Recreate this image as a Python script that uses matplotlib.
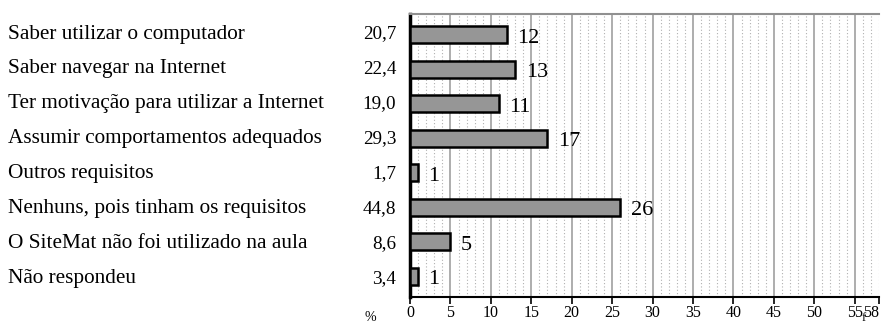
import matplotlib
matplotlib.use("Agg")
import matplotlib.pyplot as plt
import numpy as np

categories = [
    "Saber utilizar o computador",
    "Saber navegar na Internet",
    "Ter motivação para utilizar a Internet",
    "Assumir comportamentos adequados",
    "Outros requisitos",
    "Nenhuns, pois tinham os requisitos",
    "O SiteMat não foi utilizado na aula",
    "Não respondeu",
]
freq = [12, 13, 11, 17, 1, 26, 5, 1]
percent = ["20,7", "22,4", "19,0", "29,3", "1,7", "44,8", "8,6", "3,4"]
total = 58
xtick_values = [0, 5, 10, 15, 20, 25, 30, 35, 40, 45, 50, 55, 58]

plt.rcParams["font.family"] = ["Liberation Serif", "DejaVu Serif"]

W, H = 883, 325
fig = plt.figure(figsize=(W / 100, H / 100), dpi=100)
x0, x1, ytop, ybot = 410, 879, 14, 297
ax = fig.add_axes([x0 / W, 1 - ybot / H, (x1 - x0) / W, (ybot - ytop) / H])

y = np.arange(len(categories))
ax.barh(y, freq, height=0.48, color="#969696", edgecolor="black", linewidth=1.8, zorder=3)

ax.set_xlim(0, total)
ax.set_ylim(len(categories) - 0.4, -0.6)

# grid: solid every 5, dotted every 1
for v in range(1, total + 1):
    if v % 5 == 0:
        ax.axvline(v, color="#a0a0a0", lw=1.2, zorder=1)
    else:
        ax.axvline(v, color="#b0b0b0", lw=0.8, ls=(0, (1, 2)), zorder=1)

ax.set_yticks([])
ax.set_xticks(xtick_values)
ax.set_xticklabels([str(v) for v in xtick_values], fontsize=11.5)
ax.tick_params(axis="x", direction="out", length=5, width=1.2, pad=1)
ax.get_xticklabels()[-1].set_horizontalalignment("right")

ax.spines["right"].set_visible(False)
ax.spines["top"].set_color("#909090")
ax.spines["top"].set_linewidth(1.5)
ax.spines["left"].set_linewidth(2.5)
ax.spines["bottom"].set_linewidth(1.5)

row_y = lambda i: 1 - (34 + i * 34.9) / H
for i, (f, p, c) in enumerate(zip(freq, percent, categories)):
    ax.text(f + 1.3, i + 0.1, str(f), fontsize=16, va="center", ha="left", zorder=4)
    fig.text(8 / W, row_y(i), c, fontsize=15.3, va="center", ha="left")
    fig.text(396 / W, row_y(i), p, fontsize=13.8, va="center", ha="right")

fig.text(370 / W, 1 / H, "%", fontsize=10, ha="center", va="bottom")
fig.text(864 / W, 1 / H, "f", fontsize=9, ha="center", va="bottom")

fig.savefig("out.png", dpi=100)
